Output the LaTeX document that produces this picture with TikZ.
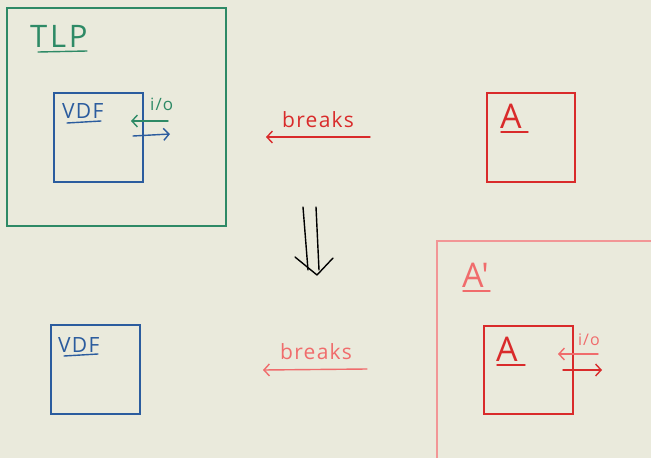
\documentclass[tikz,border=0pt]{standalone}
\usepackage{fontspec}
\setmainfont{Open Sans}
\newfontfamily\handfont[LetterSpace=6]{Open Sans}
\newfontfamily\widefont[LetterSpace=9]{Open Sans}
\usetikzlibrary{arrows.meta}
\definecolor{bgc}{HTML}{EAEADC}
\definecolor{grn}{HTML}{2E8A66}
\definecolor{blu}{HTML}{2B5C9E}
\definecolor{rd}{HTML}{D92B2B}
\definecolor{lrd}{HTML}{F06C6C}
\definecolor{lbox}{HTML}{F29696}
\tikzset{
  box/.style={draw, line width=1.5pt, inner sep=0pt},
  lbl/.style={font=\handfont, inner sep=0pt, anchor=base west},
  uline/.style={line width=1.4pt, line cap=round},
  arr/.style={line width=1.4pt, line cap=round, -{Straight Barb[length=5.5pt,width=12pt,line width=1.4pt]}},
}
\begin{document}
\begin{tikzpicture}[x=1pt,y=-1pt]
\fill[bgc] (0,0) rectangle (651,458);
\useasboundingbox (0,0) rectangle (651,458);

% top-left: TLP containing VDF
\node[box, grn, minimum width=219pt, minimum height=218pt, anchor=north west] (tlp) at (6,7) {};
\node[lbl, grn, font=\widefont\fontsize{31}{31}\selectfont] (tlpt) at (30,47) {TLP};
\draw[grn, uline] (38,52) -- (87,51);
\node[box, blu, minimum width=89pt, minimum height=89pt, anchor=north west] (vdf1) at (53,92) {};
\node[lbl, blu, font=\handfont\fontsize{21}{21}\selectfont] (vdf1t) at (62,118) {VDF};
\draw[blu, uline] (67,123) -- (101,121);
\node[lbl, grn, font=\handfont\fontsize{17}{17}\selectfont] (io1) at (150,110) {i/o};
\coordinate (g1s) at (168,121);
\coordinate (g1e) at (131,121);
\draw[grn, arr] (g1s) -- (g1e);
\coordinate (b1s) at (133,136);
\coordinate (b1e) at (170,134);
\draw[blu, arr] (b1s) -- (b1e);

% top-right: A
\node[box, rd, minimum width=88pt, minimum height=89pt, anchor=north west] (a1) at (486,92) {};
\node[lbl, rd, font=\handfont\fontsize{34}{34}\selectfont] (a1t) at (500,128) {A};
\draw[rd, uline] (501,132) -- (528,132);

% top breaks arrow
\node[lbl, rd, font=\handfont\fontsize{21}{21}\selectfont] (br1) at (282,127) {breaks};
\coordinate (br1s) at (370,137);
\coordinate (br1e) at (266,137);
\draw[rd, arr] (br1s) -- (br1e);

% double down arrow
\coordinate (d1a) at (303,207);
\coordinate (d1b) at (308,270);
\coordinate (d2a) at (316,207);
\coordinate (d2b) at (319,270);
\coordinate (dh) at (317,275);
\draw[black, line width=1.4pt, line cap=round] (d1a) -- (d1b) (d2a) -- (d2b);
\draw[black, line width=1.4pt, line cap=round, line join=round] (295,257) -- (dh) -- (333,258);

% bottom-left: VDF
\node[box, blu, minimum width=89pt, minimum height=89pt, anchor=north west] (vdf2) at (50,324) {};
\node[lbl, blu, font=\handfont\fontsize{21}{21}\selectfont] (vdf2t) at (58,352) {VDF};
\draw[blu, uline] (64,356) -- (98,354);

% bottom breaks arrow
\node[lbl, lrd, font=\handfont\fontsize{21}{21}\selectfont] (br2) at (280,359) {breaks};
\coordinate (br2s) at (367,369);
\coordinate (br2e) at (263,370);
\draw[lrd, arr] (br2s) -- (br2e);

% bottom-right: A' containing A
\node[box, lbox, minimum width=230pt, minimum height=230pt, anchor=north west] (ap) at (436,240) {};
\node[lbl, lrd, font=\fontspec{Open Sans}\fontsize{34}{34}\selectfont] (apt) at (462,287) {A'};
\draw[lrd, uline] (463,291) -- (490,291);
\node[box, rd, minimum width=89pt, minimum height=88pt, anchor=north west] (a2) at (483,325) {};
\node[lbl, rd, font=\handfont\fontsize{34}{34}\selectfont] (a2t) at (496,361) {A};
\draw[rd, uline] (497,365) -- (525,365);
\node[lbl, lrd, font=\handfont\fontsize{16}{16}\selectfont] (io2) at (578,345) {i/o};
\coordinate (l2s) at (598,354);
\coordinate (l2e) at (558,354);
\draw[lrd, arr] (l2s) -- (l2e);
\coordinate (r2s) at (563,370);
\coordinate (r2e) at (602,370);
\draw[rd, arr] (r2s) -- (r2e);
\end{tikzpicture}
\end{document}
